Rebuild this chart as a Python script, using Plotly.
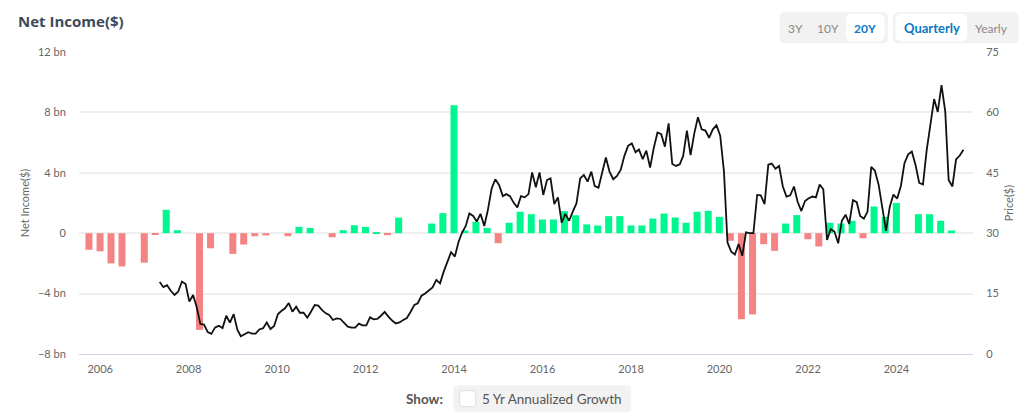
import pandas as pd
import plotly.graph_objects as go

title_text = 'Net Income($)'

income_bn = [
    -1.1, -1.2,
    -2.0, -2.2, 0, -1.95,
    -0.1, 1.55, 0.2, 0,
    -6.4, -1.0, 0, -1.37,
    -0.75, -0.2, -0.15, 0,
    -0.2, 0.42, 0.35, 0,
    -0.27, 0.2, 0.53, 0.42,
    0.08, -0.13, 1.03, 0,
    0, 0.64, 1.33, 8.47,
    0.18, 0.75, 0.35, -0.66,
    0.69, 1.42, 1.26, 0.91,
    0.91, 1.46, 1.19, 0.58,
    0.51, 1.13, 1.13, 0.51,
    0.51, 0.97, 1.3, 1.04,
    0.69, 1.42, 1.48, 1.08,
    -0.5, -5.7, -5.38, -0.73,
    -1.17, 0.64, 1.2, -0.4,
    -0.88, 0.69, 0.64, 0.82,
    -0.33, 1.77, 1.08, 2.0,
    0, 1.26, 1.26, 0.82,
    0.18,
]

price_early = [
    17.9, 16.6, 17.1, 15.7, 14.65, 15.5, 18.0, 17.4, 13.0, 14.65, 11.75, 7.45,
    7.3, 5.45, 5.0, 6.6, 7.0, 6.45, 9.5, 7.8, 9.9, 6.0, 4.4, 4.9,
    5.4, 5.05, 5.05, 6.1, 6.4, 7.8, 6.2, 6.95, 9.85, 10.75, 11.35, 12.65,
    10.5, 11.75, 10.25, 10.25, 9.0, 10.5, 12.15, 12.0, 10.9, 10.1, 9.7, 8.45,
    8.85, 8.7, 7.8, 6.8, 6.55, 6.55, 7.55, 7.1, 7.1, 9.1, 8.6, 8.7,
    9.5, 10.45, 9.3, 8.3, 7.6, 7.85, 8.45,
    8.95, 10.5, 12.2, 12.6, 14.5, 15.05, 15.7, 16.55, 18.4, 17.55, 20.45, 23.2, 25.3,
]
price_mid = [
    24.2, 27.9, 30.1, 31.8, 34.9, 34.3, 32.9, 34.8, 31.8, 35.8, 41.1, 43.4,
    42.0, 39.2, 39.7, 39.2, 37.6, 36.4, 39.2, 38.9, 39.7, 45.1, 41.4, 45.1,
    39.5, 43.2, 43.6, 37.25, 38.9, 32.6, 34.8, 33.1, 35.35, 37.4, 43.6, 44.45,
    42.8, 45.3, 41.7, 41.3, 45.0, 48.8, 45.3, 43.4, 44.2, 45.7, 49.2, 51.7,
    52.3, 50.1, 50.8, 48.4, 50.5, 46.3, 51.1, 55.0, 54.6, 51.5, 57.3, 47.2,
    46.7, 47.1, 49.2, 55.5, 49.4,
]
price_late = [
    54.8, 58.8, 55.8, 55.5, 53.7, 55.8, 56.8, 54.2, 45.3, 27.7, 25.4, 24.7,
    27.3, 24.4, 30.2, 30.0, 30.0, 39.5, 39.4, 37.2, 47.0, 47.3, 46.0, 46.7,
    41.6, 39.1, 39.4, 41.6, 37.8, 35.5, 38.0, 38.7, 39.1, 38.9, 42.1, 40.9,
    28.3, 31.0, 30.4, 27.5, 33.1, 34.6, 32.3, 38.2, 37.7, 34.3, 33.6, 35.3,
    46.5, 45.5, 42.0, 36.2, 30.6, 36.6, 39.6, 38.6, 41.8, 47.4, 49.6, 50.3,
    46.9, 42.5, 42.1, 50.7, 57.3, 63.3, 60.1, 66.8, 60.2, 43.2, 41.6, 48.3,
    49.3, 50.7,
]
price = price_early + price_mid + price_late

years = [2006, 2008, 2010, 2012, 2014, 2016, 2018, 2020, 2022, 2024]
income_ticks = [-8, -4, 0, 4, 8, 12]
income_labels = ['\u22128 bn', '\u22124 bn', '0', '4 bn', '8 bn', '12 bn']
price_ticks = [0, 15, 30, 45, 60, 75]

quarters = pd.date_range('2005-09-30', periods=len(income_bn), freq='QE')
months = pd.date_range(end='2025-07-07', periods=len(price), freq=pd.DateOffset(months=1))

GREEN = '#00f78f'
RED = '#f48484'
GREY = '#666666'
FONT = 'Lato'

# reference is laid out in pixels, so the extras are placed in pixels too
PLOT_L, PLOT_R, PLOT_T, PLOT_B = 79, 973, 52, 354


def px_x(x):
    return (x - PLOT_L) / (PLOT_R - PLOT_L)


def px_y(y):
    return (PLOT_B - y) / (PLOT_B - PLOT_T)


def round_box(x0, y0, x1, y1, fill, r=5, line=None):
    a, b, c, d = px_x(x0), px_x(x1), px_y(y0), px_y(y1)
    rx = r / (PLOT_R - PLOT_L)
    ry = r / (PLOT_B - PLOT_T)
    path = (f'M {a + rx} {c} L {b - rx} {c} Q {b} {c} {b} {c - ry} '
            f'L {b} {d + ry} Q {b} {d} {b - rx} {d} L {a + rx} {d} '
            f'Q {a} {d} {a} {d + ry} L {a} {c - ry} Q {a} {c} {a + rx} {c} Z')
    return dict(type='path', path=path, xref='paper', yref='paper', fillcolor=fill,
                line=dict(color=line or fill, width=1), layer='above')


def label(x, y, text, size=12, color='#888888', bold=False, anchor='center', family=FONT):
    return dict(x=px_x(x), y=px_y(y), xref='paper', yref='paper', text=f'<b>{text}</b>' if bold else text,
                showarrow=False, xanchor=anchor, yanchor='middle',
                font=dict(family=family, size=size, color=color))


fig = go.Figure()

fig.add_trace(go.Bar(
    x=quarters, y=income_bn, yaxis='y', width=5.0e9,
    marker=dict(color=[GREEN if v >= 0 else RED for v in income_bn], line=dict(width=0)),
    name='Net Income($)',
))
fig.add_trace(go.Scatter(
    x=months, y=price, yaxis='y2', mode='lines',
    line=dict(color='#111111', width=1.8),
    name='Price($)',
))

fig.update_layout(
    width=1024,
    height=417,
    autosize=False,
    margin=dict(l=PLOT_L, r=1024 - PLOT_R, t=PLOT_T, b=417 - PLOT_B),
    paper_bgcolor='white',
    plot_bgcolor='white',
    showlegend=False,
    font=dict(family=FONT, size=11, color=GREY),
    xaxis=dict(
        type='date', range=['2005-07-10', '2025-09-24'],
        tickvals=[f'{y}-01-01' for y in years], ticktext=[str(y) for y in years],
        showgrid=False, zeroline=False, showline=True, linecolor='#ccd6eb', linewidth=1,
        ticks='outside', ticklen=5, tickcolor='rgba(0,0,0,0)',
    ),
    yaxis=dict(
        range=[-8, 12], tickvals=income_ticks, ticktext=income_labels,
        showgrid=True, gridcolor='#efefef', gridwidth=1.5, zeroline=False,
        ticks='outside', ticklen=10, tickcolor='rgba(0,0,0,0)',
        title=dict(text='Net Income($)', font=dict(size=11, color=GREY), standoff=6),
    ),
    yaxis2=dict(
        range=[0, 75], tickvals=price_ticks, overlaying='y', side='right',
        showgrid=False, zeroline=False,
        ticks='outside', ticklen=10, tickcolor='rgba(0,0,0,0)',
        title=dict(text='Price($)', font=dict(size=11, color=GREY), standoff=6),
    ),
    shapes=[
        round_box(780, 12.7, 887.7, 42.7, '#f2f2f2'),
        round_box(846.7, 14.3, 884, 40.7, '#ffffff'),
        round_box(893.3, 12.7, 1018, 42.7, '#f2f2f2'),
        round_box(896, 14.3, 966.7, 40.7, '#ffffff'),
        round_box(454, 385.7, 630.7, 411.7, '#f2f2f2', r=4),
        round_box(459.3, 390.7, 475.7, 406.7, '#ffffff', r=3, line='#dddddd'),
    ],
    annotations=[
        label(16, 21, title_text, size=15, color='#3d4a5c', bold=True, anchor='left', family='Open Sans'),
        label(795, 28.3, '3Y'),
        label(827.7, 28.3, '10Y'),
        label(865, 28.3, '20Y', color='#0a78c2', bold=True),
        label(931.7, 28.3, 'Quarterly', size=13, color='#0a78c2', bold=True),
        label(991, 28.3, 'Yearly'),
        label(424, 398.5, 'Show:', size=13.5, color='#555555', bold=True),
        label(480, 398.5, '5 Yr Annualized Growth', size=13.5, color='#555555', anchor='left'),
    ],
)

# drop the page's default body margin so the figure sits at the window's corner
fig.write_html('out.html', config={'displayModeBar': False},
               post_script="document.body.style.margin='0';")
